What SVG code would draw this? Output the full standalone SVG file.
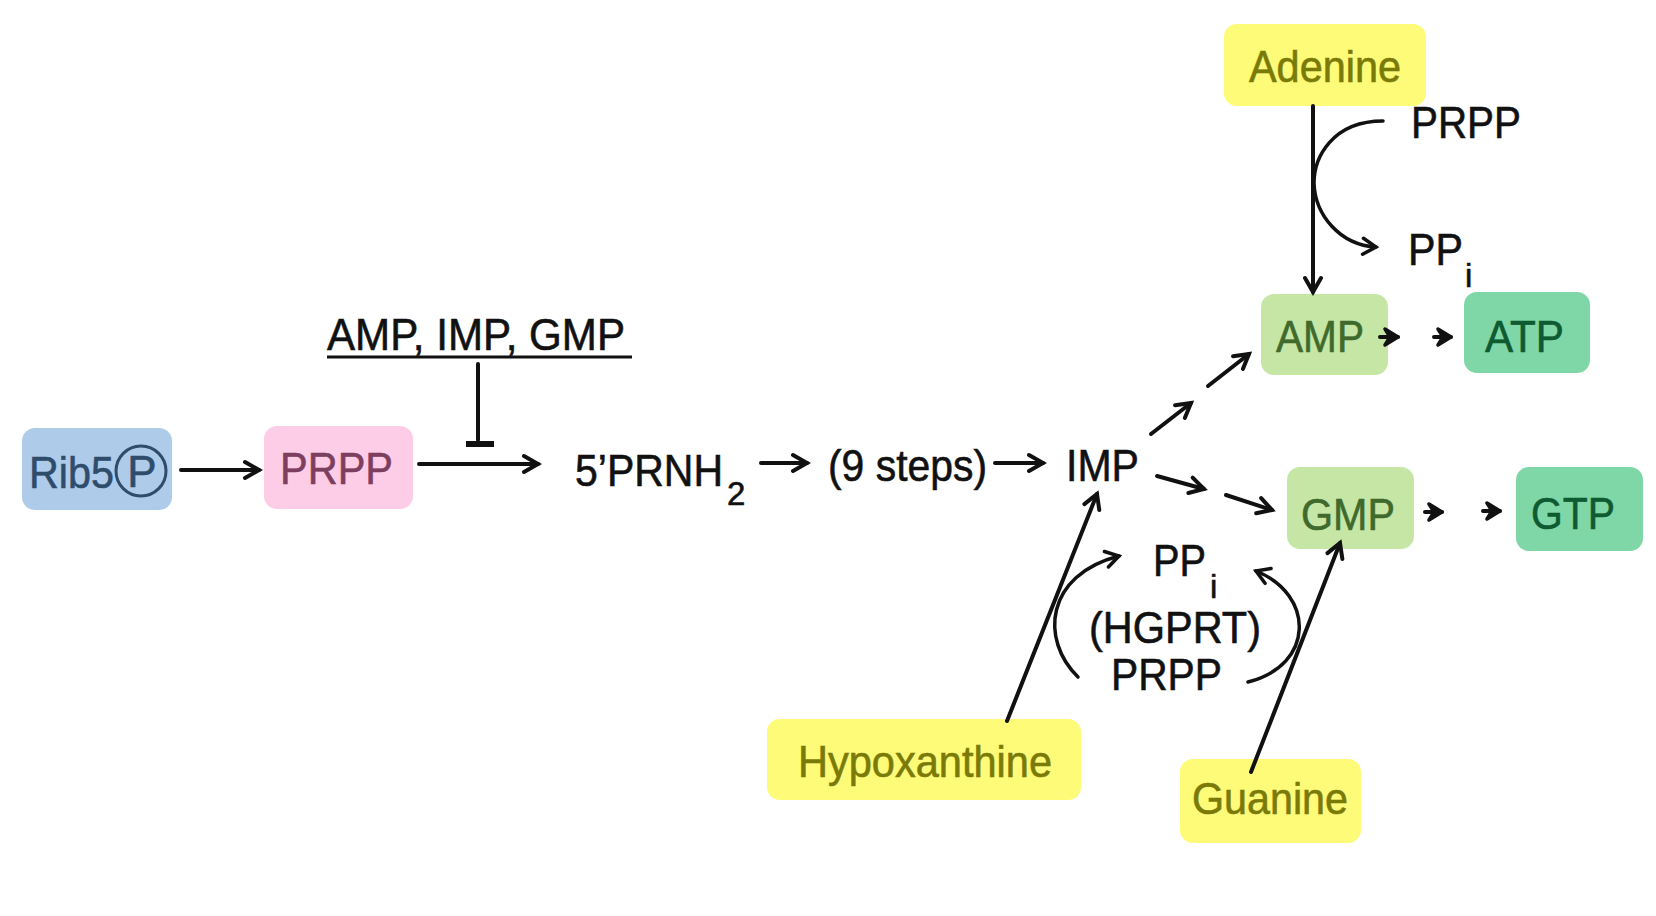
<svg xmlns="http://www.w3.org/2000/svg" width="1656" height="916" viewBox="0 0 1656 916">
<defs>
<style>
text{font-family:"Liberation Sans",Arial,sans-serif;font-size:44px;fill:#111;stroke:#111;stroke-width:0.6}
.sub{font-size:33px}
.ln{stroke:#111;stroke-width:4;fill:none;stroke-linecap:round}
.cv{stroke:#111;stroke-width:3.5;fill:none;stroke-linecap:round}
.box{rx:13;ry:13}
.rib{fill:#aecbea}.rib-t{fill:#2f4d6b;stroke:#2f4d6b}
.prpp{fill:#fdcce6}.prpp-t{fill:#7d3f5f;stroke:#7d3f5f}
.yel{fill:#fdfb78}.yel-t{fill:#7a7a08;stroke:#7a7a08}
.mp{fill:#c6e6a6}.mp-t{fill:#3f6a2c;stroke:#3f6a2c}
.tp{fill:#7fd7a7}.tp-t{fill:#0e5a31;stroke:#0e5a31}
</style>
<marker id="arr" markerUnits="userSpaceOnUse" viewBox="-18 -12 22 24" refX="0" refY="0" markerWidth="22" markerHeight="24" orient="auto">
<path d="M-14,-8 L0,0 L-14,8" fill="none" stroke="#111" stroke-width="4" stroke-linecap="round" stroke-linejoin="miter"/>
</marker>
<marker id="arrs" markerUnits="userSpaceOnUse" viewBox="-18 -12 22 24" refX="0" refY="0" markerWidth="22" markerHeight="24" orient="auto">
<path d="M-13,-8 L0,0 L-13,8" fill="none" stroke="#111" stroke-width="3.5" stroke-linecap="round"/>
</marker>
<marker id="arrf" markerUnits="userSpaceOnUse" viewBox="-18 -12 22 24" refX="0" refY="0" markerWidth="22" markerHeight="24" orient="auto">
<path d="M-13,-8 L0,0 L-13,8 L-8,0 Z" fill="#111" stroke="#111" stroke-width="3.5" stroke-linejoin="round"/>
</marker>
</defs>
<rect width="1656" height="916" fill="#ffffff"/>

<g id="rib5p">
<rect class="box rib" x="22" y="428" width="150" height="82"/>
<text class="rib-t" x="29" y="488" textLength="85" lengthAdjust="spacingAndGlyphs">Rib5</text>
<circle cx="141" cy="471" r="25" fill="none" stroke="#2f4d6b" stroke-width="3"/>
<text class="rib-t" x="142" y="487" text-anchor="middle">P</text>
</g>

<g id="prpp">
<rect class="box prpp" x="264" y="426" width="149" height="83"/>
<text class="prpp-t" x="280" y="484" textLength="113" lengthAdjust="spacingAndGlyphs">PRPP</text>
</g>

<g id="inhibitors">
<text x="327" y="350" textLength="298" lengthAdjust="spacingAndGlyphs">AMP, IMP, GMP</text>
<line x1="327" y1="357" x2="632" y2="357" stroke="#111" stroke-width="3"/>
</g>

<g id="prnh2">
<text x="575" y="486"><tspan textLength="148" lengthAdjust="spacingAndGlyphs">5’PRNH</tspan><tspan class="sub" x="727" y="505">2</tspan></text>
</g>

<g id="steps">
<text x="828" y="481" textLength="159" lengthAdjust="spacingAndGlyphs">(9 steps)</text>
</g>

<g id="imp">
<text x="1066" y="481" textLength="73" lengthAdjust="spacingAndGlyphs">IMP</text>
</g>

<g id="adenine">
<rect class="box yel" x="1224" y="24" width="202" height="82"/>
<text class="yel-t" x="1249" y="82" textLength="152" lengthAdjust="spacingAndGlyphs">Adenine</text>
</g>

<g id="adenine-cofactors">
<text x="1411" y="138" textLength="110" lengthAdjust="spacingAndGlyphs">PRPP</text>
<text x="1408" y="265"><tspan textLength="55" lengthAdjust="spacingAndGlyphs">PP</tspan><tspan class="sub" x="1465" y="287">i</tspan></text>
</g>

<g id="amp">
<rect class="box mp" x="1261" y="294" width="127" height="81"/>
<text class="mp-t" x="1276" y="352" textLength="88" lengthAdjust="spacingAndGlyphs">AMP</text>
</g>

<g id="atp">
<rect class="box tp" x="1464" y="292" width="126" height="81"/>
<text class="tp-t" x="1485" y="352" textLength="79" lengthAdjust="spacingAndGlyphs">ATP</text>
</g>

<g id="gmp">
<rect class="box mp" x="1287" y="467" width="127" height="82"/>
<text class="mp-t" x="1301" y="530" textLength="94" lengthAdjust="spacingAndGlyphs">GMP</text>
</g>

<g id="gtp">
<rect class="box tp" x="1516" y="467" width="127" height="84"/>
<text class="tp-t" x="1531" y="529" textLength="84" lengthAdjust="spacingAndGlyphs">GTP</text>
</g>

<g id="hgprt">
<text x="1153" y="576"><tspan textLength="53" lengthAdjust="spacingAndGlyphs">PP</tspan><tspan class="sub" x="1210" y="598">i</tspan></text>
<text x="1089" y="643" textLength="172" lengthAdjust="spacingAndGlyphs">(HGPRT)</text>
<text x="1111" y="690" textLength="111" lengthAdjust="spacingAndGlyphs">PRPP</text>
</g>

<g id="hypoxanthine">
<rect class="box yel" x="767" y="719" width="314" height="81"/>
<text class="yel-t" x="798" y="777" textLength="254" lengthAdjust="spacingAndGlyphs">Hypoxanthine</text>
</g>

<g id="guanine">
<rect class="box yel" x="1180" y="759" width="181" height="84"/>
<text class="yel-t" x="1192" y="814" textLength="156" lengthAdjust="spacingAndGlyphs">Guanine</text>
</g>

<g id="connectors">
<line class="ln" x1="181" y1="470" x2="259" y2="470" marker-end="url(#arr)"/>
<line class="ln" x1="419" y1="464" x2="538" y2="464" marker-end="url(#arr)"/>
<line class="ln" x1="478" y1="364" x2="478" y2="440"/>
<rect x="466" y="441" width="28" height="6" fill="#111"/>
<line class="ln" x1="761" y1="463" x2="807" y2="463" marker-end="url(#arr)"/>
<line class="ln" x1="995" y1="463" x2="1043" y2="463" marker-end="url(#arr)"/>
<line class="ln" x1="1151" y1="434" x2="1191" y2="403" marker-end="url(#arr)"/>
<line class="ln" x1="1208" y1="386" x2="1249" y2="354" marker-end="url(#arr)"/>
<line class="ln" x1="1157" y1="476" x2="1204" y2="489" marker-end="url(#arr)"/>
<line class="ln" x1="1226" y1="495" x2="1272" y2="510" marker-end="url(#arr)"/>
<line class="ln" x1="1380" y1="337" x2="1398" y2="337" marker-end="url(#arrf)"/>
<line class="ln" x1="1434" y1="337" x2="1451" y2="337" marker-end="url(#arrf)"/>
<line class="ln" x1="1425" y1="512" x2="1442" y2="512" marker-end="url(#arrf)"/>
<line class="ln" x1="1483" y1="511" x2="1500" y2="511" marker-end="url(#arrf)"/>
<line class="ln" x1="1313" y1="106" x2="1313" y2="292" marker-end="url(#arr)"/>
<path class="cv" d="M1383,121 C1332,121 1314,158 1314,183 C1315,215 1340,245 1376,247" marker-end="url(#arrs)"/>
<line class="ln" x1="1007" y1="721" x2="1097" y2="494" marker-end="url(#arr)"/>
<line class="ln" x1="1251" y1="772" x2="1340" y2="543" marker-end="url(#arr)"/>
<path class="cv" d="M1078,677 C1040,640 1045,575 1119,556" marker-end="url(#arrs)"/>
<path class="cv" d="M1248,682 C1315,665 1315,595 1256,571" marker-end="url(#arrs)"/>
</g>
</svg>
